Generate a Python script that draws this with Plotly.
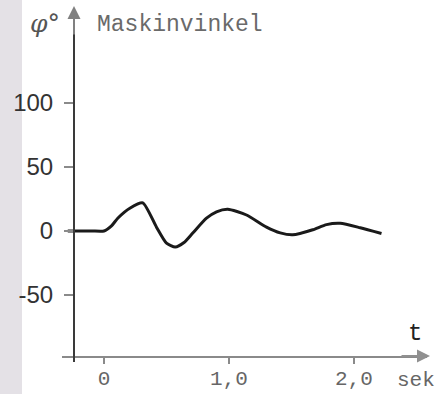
import plotly.graph_objects as go

# Data (time in s, machine angle in degrees)
t_vals = [-0.29, -0.10, 0.0, 0.06, 0.11, 0.21, 0.31, 0.42, 0.50, 0.57, 0.64, 0.71, 0.82, 0.90, 0.99,
          1.14, 1.30, 1.41, 1.51, 1.67, 1.78, 1.89, 2.05, 2.22]
phi_vals = [0, 0, 0, 4, 10, 18, 22, 3, -9.5, -12.5, -9, -1.6, 10, 15, 17,
            12.5, 3, -1.5, -3, 1, 5, 6, 2.5, -2]

x_tick_vals = [0, 1, 2]
x_tick_text = ["0", "1,0", "2,0"]
y_tick_vals = [100, 50, 0, -50]
y_tick_text = ["100", "50", "0", "-50"]

W, H = 439, 394
L, R, T, B = 62, 12, 12, 38
pw, ph = W - L - R, H - T - B


def px(x):
    return (x - L) / pw


def py(y):
    return (H - B - y) / ph


fig = go.Figure()
fig.add_trace(go.Scatter(
    x=t_vals, y=phi_vals, mode="lines",
    line=dict(color="#1a1a1a", width=3, shape="spline", smoothing=0.6),
    showlegend=False, hoverinfo="skip"))

axis_font_y = dict(family="Liberation Sans, Arial, sans-serif", size=24, color="#333333")
axis_font_x = dict(family="Liberation Mono, Courier New, monospace", size=21, color="#666666")

fig.update_layout(
    width=W, height=H,
    margin=dict(l=L, r=R, t=T, b=B, autoexpand=False),
    paper_bgcolor="white", plot_bgcolor="white",
    xaxis=dict(range=[(L - 104) / 125, (W - R - 104) / 125],
               tickvals=x_tick_vals, ticktext=x_tick_text,
               showgrid=False, zeroline=False, automargin=False,
               showline=True, linecolor="#8a8a8a", linewidth=2,
               ticks="outside", ticklen=6, tickwidth=2, tickcolor="#8a8a8a",
               ticklabelstandoff=-4,
               tickfont=axis_font_x, fixedrange=True),
    yaxis=dict(range=[(231 - (H - B)) / 1.28, (231 - T) / 1.28],
               tickvals=y_tick_vals, ticktext=y_tick_text,
               anchor="free", position=px(74),
               showgrid=False, zeroline=False, automargin=False,
               showline=True, linecolor="#3a3a3a", linewidth=2,
               ticks="outside", ticklen=9, tickwidth=2, tickcolor="#8a8a8a",
               ticklabelstandoff=6,
               tickfont=axis_font_y, fixedrange=True),
    shapes=[
        # scanned page shadow at left edge
        dict(type="rect", xref="paper", yref="paper", x0=px(0), x1=px(22), y0=py(H), y1=py(0),
             fillcolor="#e4e1e6", line=dict(width=0), layer="below"),
        # y-axis overshoot below the t-axis
        dict(type="line", xref="paper", yref="paper", x0=px(74), x1=px(74), y0=py(356), y1=py(362),
             line=dict(color="#3a3a3a", width=2)),
    ],
    annotations=[
        dict(xref="paper", yref="paper", x=px(74), y=py(6), ax=0, ay=30,
             showarrow=True, arrowhead=2, arrowsize=1.3, arrowwidth=2, arrowcolor="#808080", text=""),
        dict(xref="paper", yref="paper", x=px(430), y=py(356), ax=-30, ay=0,
             showarrow=True, arrowhead=2, arrowsize=1.3, arrowwidth=2, arrowcolor="#909090", text=""),
        dict(xref="paper", yref="paper", x=px(95), y=py(25), xanchor="left", yanchor="middle",
             text="Maskinvinkel", showarrow=False,
             font=dict(family="Liberation Mono, Courier New, monospace", size=23, color="#6a6a6a")),
        dict(xref="paper", yref="paper", x=px(62), y=py(24), xanchor="right", yanchor="middle",
             text="<i>φ</i>°", showarrow=False,
             font=dict(family="DejaVu Serif, serif", size=25, color="#555555")),
        dict(xref="paper", yref="paper", x=px(415), y=py(333), xanchor="center", yanchor="middle",
             text="t", showarrow=False,
             font=dict(family="Liberation Mono, Courier New, monospace", size=24, color="#222222")),
        dict(xref="paper", yref="paper", x=px(416), y=py(381), xanchor="center", yanchor="middle",
             text="sek", showarrow=False,
             font=dict(family="Liberation Mono, Courier New, monospace", size=21, color="#666666")),
    ],
)

fig.write_html("out.html", config={"displayModeBar": False})
